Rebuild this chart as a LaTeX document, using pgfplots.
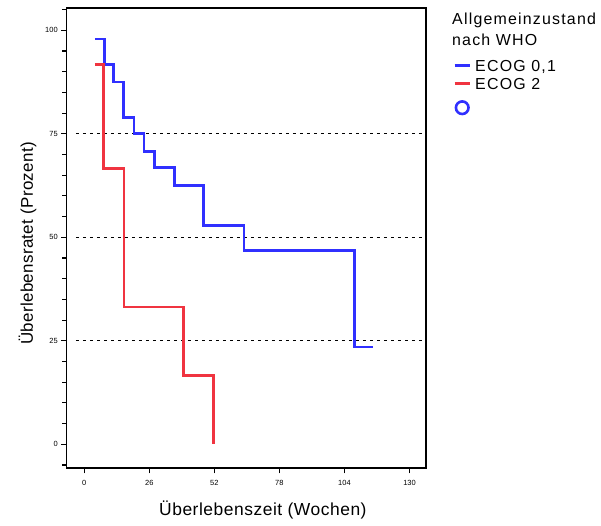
\documentclass[border=0pt]{standalone}
\usepackage{fontspec}
\setmainfont{Liberation Sans}
\newfontfamily\lsA[LetterSpace=7.5]{Liberation Sans}
\newfontfamily\lsY[LetterSpace=2]{Liberation Sans}
\newfontfamily\lsX[LetterSpace=3]{Liberation Sans}
\usepackage{pgfplots}
\pgfplotsset{compat=1.18}
\definecolor{blueK}{RGB}{48,48,255}
\definecolor{redK}{RGB}{240,52,64}
\begin{document}
\begin{tikzpicture}
\useasboundingbox (0,0) rectangle (601bp,526bp);
\node[anchor=base west, inner sep=0pt, font=\lsA\fontsize{16}{18}\selectfont] at (452bp,501.5bp) {Allgemeinzustand};
\node[anchor=base west, inner sep=0pt, font=\lsA\fontsize{16}{18}\selectfont] at (452bp,480bp) {nach WHO};
\begin{axis}[
  at={(66.7bp,58bp)}, anchor=south west,
  scale only axis, width=359.3bp, height=460bp,
  xmin=-7, xmax=136.6, ymin=-5.72, ymax=105.4,
  axis line style={line width=1.5bp, black},
  tick align=outside,
  xtick={0,26,52,78,104,130},
  ytick={0,25,50,75,100},
  minor ytick={-5,5,10,15,20,30,35,40,45,55,60,65,70,80,85,90,95,105},
  xtick pos=bottom, ytick pos=left,
  major tick length=5.5bp, minor tick length=4.5bp,
  every tick/.style={line width=1.1bp, black},
  /pgf/number format/assume math mode=true,
  tick label style={font=\fontsize{7.5}{9}\selectfont},
  xticklabel style={yshift=-3bp},
  xlabel={Überlebenszeit (Wochen)},
  ylabel={Überlebensratet (Prozent)},
  xlabel style={at={(axis description cs:0.546,-0.1022)}, anchor=base, font=\lsX\fontsize{17.5}{20}\selectfont},
  ylabel style={at={(axis description cs:-0.0938,0.488)}, anchor=base, font=\lsY\fontsize{17}{20}\selectfont},
  legend style={at={(axis description cs:1.0752,0.888)}, anchor=north west, draw=none, fill=none,
    inner sep=0pt, row sep=5.5bp, column sep=4bp,
    font=\lsA\fontsize{16}{18}\selectfont,
    nodes={inner sep=0pt, text height=12bp, text depth=0bp}},
  legend cell align=left,
  legend image code/.code={\draw[#1, line width=3bp] (0bp,0bp) -- (15bp,0bp);},
]
\addplot[black, line width=0.9bp, dash pattern=on 3.5bp off 3.5bp, forget plot] coordinates {(-3.3,25) (136.6,25)};
\addplot[black, line width=0.9bp, dash pattern=on 3.5bp off 3.5bp, forget plot] coordinates {(-3.3,50) (136.6,50)};
\addplot[black, line width=0.9bp, dash pattern=on 3.5bp off 3.5bp, forget plot] coordinates {(-3.3,75) (136.6,75)};
\addplot[blueK, line width=2.7bp, const plot, miter limit=10, line join=miter] coordinates {
 (4.3,97.9) (8.0,91.7) (11.7,87.5) (15.6,79.0) (19.9,75.0) (23.9,70.8) (28.0,66.8)
 (36.0,62.5) (47.8,52.9) (63.8,46.9) (107.9,23.5) (115.5,23.5)};
\addlegendentry{ECOG 0,1}
\addplot[redK, line width=2.7bp, const plot, line join=miter] coordinates {
 (4.3,91.8) (7.7,66.7) (15.9,33.2) (39.7,16.6) (51.8,0)};
\addlegendentry{ECOG 2}
\addlegendimage{legend image code/.code={\draw[blueK, line width=2.6bp] (7.5bp,-7bp) circle (6.3bp);}}
\addlegendentry{}
\end{axis}
\end{tikzpicture}
\end{document}
